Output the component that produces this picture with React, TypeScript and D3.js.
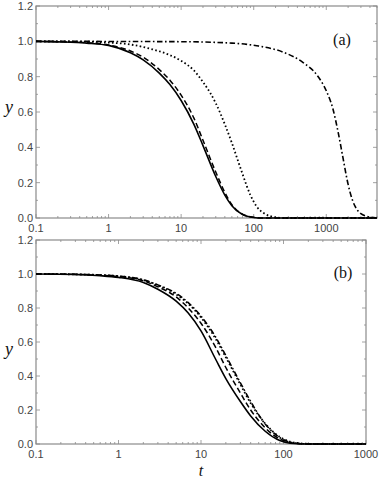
import * as d3 from 'd3';
import React, {useEffect, useRef} from 'react';

// panel (a)
const tA = [0.1, 0.2, 0.5, 1, 2, 3, 5, 7, 10, 15, 20, 30, 40, 50, 70, 100, 130, 5000];
const solidA = [1.0, 0.997, 0.99, 0.977, 0.935, 0.895, 0.82, 0.755, 0.665, 0.53, 0.41, 0.235, 0.13, 0.07, 0.02, 0.003, 0.0, 0.0];
const dashedA = [1.0, 0.998, 0.992, 0.98, 0.945, 0.91, 0.84, 0.78, 0.695, 0.565, 0.44, 0.26, 0.145, 0.075, 0.022, 0.004, 0.0, 0.0];

const tDotA = [0.1, 0.5, 1, 2, 4, 7, 10, 15, 20, 25, 30, 40, 50, 60, 70, 90, 110, 140, 200, 250, 5000];
const dottedA = [1.0, 0.998, 0.993, 0.982, 0.955, 0.922, 0.89, 0.835, 0.77, 0.71, 0.65, 0.53, 0.425, 0.33, 0.25, 0.13, 0.065, 0.025, 0.004, 0.0, 0.0];

const tDashDotA = [0.1, 10, 50, 110, 250, 480, 740, 1000, 1230, 1450, 1700, 2000, 2300, 2630, 3000, 3600, 5000];
const dashDotA = [1.0, 0.998, 0.99, 0.975, 0.94, 0.88, 0.81, 0.72, 0.62, 0.49, 0.34, 0.19, 0.1, 0.05, 0.025, 0.01, 0.0];

// panel (b)
const tB = [0.1, 0.3, 0.6, 1, 2, 3, 5, 7, 10, 15, 20, 30, 40, 60, 90, 120, 180, 250, 1000];
const solidB = [1.0, 0.997, 0.99, 0.98, 0.95, 0.91, 0.84, 0.77, 0.665, 0.5, 0.385, 0.25, 0.165, 0.075, 0.02, 0.004, 0.0, 0.0, 0.0];
const dashedB = [1.0, 0.998, 0.992, 0.985, 0.96, 0.925, 0.865, 0.8, 0.71, 0.57, 0.45, 0.3, 0.2, 0.095, 0.03, 0.009, 0.0, 0.0, 0.0];
const dottedB = [1.0, 0.998, 0.994, 0.987, 0.964, 0.933, 0.88, 0.825, 0.745, 0.62, 0.51, 0.35, 0.24, 0.12, 0.042, 0.014, 0.002, 0.0, 0.0];
const dashDotB = [1.0, 0.998, 0.994, 0.988, 0.966, 0.936, 0.886, 0.832, 0.752, 0.63, 0.52, 0.36, 0.25, 0.118, 0.038, 0.011, 0.001, 0.0, 0.0];

const yTicks = [0, 0.2, 0.4, 0.6, 0.8, 1.0, 1.2];
const xTicksA = [0.1, 1, 10, 100, 1000];
const xTicksB = [0.1, 1, 10, 100, 1000];

const styles: any = {
    solid: {dash: null, width: 1.6},
    dashed: {dash: '5.5,3', width: 1.5},
    dotted: {dash: '1.6,2.4', width: 1.8},
    dashdot: {dash: '5.5,2.5,1.6,2.5', width: 1.6},
};

const serif = "'Liberation Serif', 'Times New Roman', serif";
const sans = "'Liberation Sans', Arial, sans-serif";

export default function App() {
    const ref = useRef<SVGSVGElement | null>(null);

    useEffect(() => {
        const svg = d3.select(ref.current);
        svg.selectAll('*').remove();

        const panels = [
            {
                label: '(a)', xMax: 5000, x0: 36, x1: 377, yTop: 6, yBot: 218, xTicks: xTicksA,
                labelPos: [342, 45], yLabel: 113,
                series: [
                    {t: tA, y: solidA, s: 'solid'},
                    {t: tA, y: dashedA, s: 'dashed'},
                    {t: tDotA, y: dottedA, s: 'dotted'},
                    {t: tDashDotA, y: dashDotA, s: 'dashdot'},
                ],
            },
            {
                label: '(b)', xMax: 1000, x0: 36, x1: 366, yTop: 240, yBot: 444, xTicks: xTicksB,
                labelPos: [343, 278], yLabel: 355,
                series: [
                    {t: tB, y: solidB, s: 'solid'},
                    {t: tB, y: dashedB, s: 'dashed'},
                    {t: tB, y: dottedB, s: 'dotted'},
                    {t: tB, y: dashDotB, s: 'dashdot'},
                ],
            },
        ];

        const frameColor = '#8a8a8a';
        const textColor = '#444';

        panels.forEach((p) => {
            const x = d3.scaleLog().domain([0.1, p.xMax]).range([p.x0, p.x1]);
            const y = d3.scaleLinear().domain([0, 1.2]).range([p.yBot, p.yTop]);
            const g = svg.append('g');

            // minor / major ticks, inward on all four sides
            const minorX: number[] = [];
            for (let e = -1; e < 4; e++) {
                for (let m = 1; m < 10; m++) {
                    const v = m * Math.pow(10, e);
                    if (v >= 0.1 && v <= p.xMax) minorX.push(v);
                }
            }
            minorX.forEach((v) => {
                const major = p.xTicks.some((tk) => Math.abs(tk - v) < 1e-9);
                const len = major ? 4 : 2;
                g.append('line').attr('x1', x(v)).attr('x2', x(v))
                    .attr('y1', p.yBot).attr('y2', p.yBot - len)
                    .attr('stroke', frameColor).attr('stroke-width', 0.8);
                g.append('line').attr('x1', x(v)).attr('x2', x(v))
                    .attr('y1', p.yTop).attr('y2', p.yTop + len)
                    .attr('stroke', frameColor).attr('stroke-width', 0.8);
            });
            d3.range(0, 13).forEach((i) => {
                const v = i / 10;
                const len = i % 2 === 0 ? 4 : 2;
                g.append('line').attr('x1', p.x0).attr('x2', p.x0 + len)
                    .attr('y1', y(v)).attr('y2', y(v))
                    .attr('stroke', frameColor).attr('stroke-width', 0.8);
                g.append('line').attr('x1', p.x1).attr('x2', p.x1 - len)
                    .attr('y1', y(v)).attr('y2', y(v))
                    .attr('stroke', frameColor).attr('stroke-width', 0.8);
            });

            // frame
            g.append('rect')
                .attr('x', p.x0).attr('y', p.yTop)
                .attr('width', p.x1 - p.x0).attr('height', p.yBot - p.yTop)
                .attr('fill', 'none').attr('stroke', frameColor).attr('stroke-width', 1.2);

            // tick labels
            g.selectAll('.ylab').data(yTicks).enter().append('text')
                .attr('x', p.x0 - 3).attr('y', (d) => y(d))
                .attr('dy', '0.35em')
                .attr('text-anchor', 'end')
                .style('font-family', sans)
                .style('font-size', '11px')
                .attr('fill', textColor)
                .text((d) => d.toFixed(1));

            g.selectAll('.xlab').data(p.xTicks).enter().append('text')
                .attr('x', (d) => x(d)).attr('y', p.yBot + 10)
                .attr('dy', '0.35em')
                .attr('text-anchor', 'middle')
                .style('font-family', sans)
                .style('font-size', '11px')
                .attr('fill', textColor)
                .text((d) => (d < 1 ? '0.1' : String(d)));

            // curves
            const line = d3.line<[number, number]>()
                .x((d) => x(d[0]))
                .y((d) => y(d[1]))
                .curve(d3.curveMonotoneX);

            p.series.forEach((s) => {
                const st = styles[s.s];
                const pts: [number, number][] = s.t.map((tt, i) => [tt, s.y[i]]);
                g.append('path')
                    .attr('d', line(pts))
                    .attr('fill', 'none')
                    .attr('stroke', '#000')
                    .attr('stroke-width', st.width)
                    .attr('stroke-dasharray', st.dash);
            });

            // panel label
            g.append('text')
                .attr('x', p.labelPos[0]).attr('y', p.labelPos[1])
                .attr('text-anchor', 'middle')
                .style('font-family', serif)
                .style('font-size', '16px')
                .attr('fill', '#111')
                .text(p.label);

            // y axis title
            g.append('text')
                .attr('x', 9).attr('y', p.yLabel)
                .attr('text-anchor', 'middle')
                .style('font-family', serif)
                .style('font-style', 'italic')
                .style('font-size', '18px')
                .attr('fill', '#111')
                .text('y');
        });

        svg.append('text')
            .attr('x', 201).attr('y', 476)
            .attr('text-anchor', 'middle')
            .style('font-family', serif)
            .style('font-style', 'italic')
            .style('font-size', '16px')
            .attr('fill', '#111')
            .text('t');
    }, []);

    return (
        <div style={{position: 'absolute', left: 0, top: 0}}>
            <svg ref={ref} width={380} height={478} style={{display: 'block', background: '#fff'}} />
        </div>
    );
}
